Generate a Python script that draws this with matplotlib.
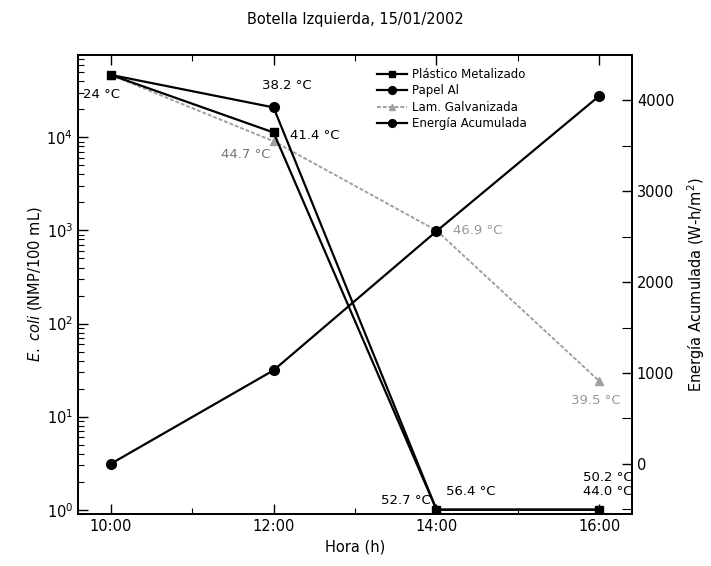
import matplotlib
matplotlib.use("Agg")
import matplotlib.pyplot as plt
from matplotlib.ticker import FixedLocator, NullFormatter, LogLocator

# hours of the day
hora = [10, 12, 14, 16]
hora_lbl = ["10:00", "12:00", "14:00", "16:00"]

# E. coli (NMP/100 mL)
plastico = [4.7e4, 1.13e4, 1, 1]
papel = [4.7e4, 2.1e4, 1, 1]
lamina = [4.7e4, 9.1e3, 1.0e3, 24]

# accumulated energy (W-h/m2)
energia = [0, 1030, 2560, 4050]

# temperature labels: (text, x, y, color) in data coords of left axis
notas = [
    ("24 °C", 9.66, 2.9e4, "black"),
    ("38.2 °C", 11.86, 3.6e4, "black"),
    ("41.4 °C", 12.2, 1.05e4, "black"),
    ("44.7 °C", 11.35, 6.5e3, "#777777"),
    ("46.9 °C", 14.2, 1.0e3, "#999999"),
    ("39.5 °C", 15.65, 15, "#999999"),
    ("52.7 °C", 13.32, 1.25, "black"),
    ("56.4 °C", 14.12, 1.55, "black"),
    ("50.2 °C", 15.8, 2.2, "black"),
    ("44.0 °C", 15.8, 1.55, "black"),
]

fig = plt.figure(figsize=(7.11, 5.66), dpi=100)
ax = fig.add_axes([0.1097, 0.092, 0.7792, 0.811])
ax2 = ax.twinx()

l3, = ax.plot(hora, lamina, color="#a0a0a0", lw=1.4, ls=(0, (2, 1)), marker="^", ms=6,
              label="Lam. Galvanizada")
l2, = ax.plot(hora, papel, color="black", lw=1.6, marker="o", ms=7, markevery=[1],
              label="Papel Al")
l1, = ax.plot(hora, plastico, color="black", lw=1.6, marker="s", ms=6, label="Plástico Metalizado")
l4, = ax2.plot(hora, energia, color="black", lw=1.6, marker="o", ms=7, label="Energía Acumulada")

ax.set_yscale("log")
ax.set_ylim(0.9, 7.7e4)
ax.set_xlim(9.6, 16.4)
ax2.set_ylim(-550, 4500)

ax.set_xticks(hora)
ax.set_xticklabels(hora_lbl)
ax.xaxis.set_minor_locator(FixedLocator([11, 13, 15]))
ax.yaxis.set_minor_locator(LogLocator(base=10, subs=range(2, 10), numticks=20))
ax.yaxis.set_minor_formatter(NullFormatter())
ax2.set_yticks([0, 1000, 2000, 3000, 4000])
ax2.yaxis.set_minor_locator(FixedLocator([-500, 500, 1500, 2500, 3500]))

ax.tick_params(axis="both", which="both", direction="in", labelsize=10.5)
ax.tick_params(axis="x", which="both", top=True)
ax.tick_params(which="major", length=7, width=1)
ax.tick_params(which="minor", length=4, width=0.8)
ax2.tick_params(which="both", direction="in", labelsize=10.5)
ax2.tick_params(which="major", length=7, width=1)
ax2.tick_params(which="minor", length=7, width=0.8)

for a in (ax, ax2):
    for s in a.spines.values():
        s.set_linewidth(1.3)

ax.set_xlabel("Hora (h)", fontsize=10.5, labelpad=4)
ax.set_ylabel(r"$\mathit{E.\ coli}$ (NMP/100 mL)", fontsize=10.5, labelpad=2)
ax2.set_ylabel("Energía Acumulada (W-h/m$^2$)", fontsize=10.5, labelpad=8)
ax.set_title("Botella Izquierda, 15/01/2002", fontsize=10.5, pad=22)

for txt, x, y, c in notas:
    ax.text(x, y, txt, fontsize=9.5, color=c, ha="left", va="center")

leg = ax.legend(handles=[l1, l2, l3, l4], loc="upper left", bbox_to_anchor=(0.52, 0.995),
                frameon=False, fontsize=8.5, handlelength=2.6, labelspacing=0.3,
                markerscale=0.8, handletextpad=0.4)
leg.set_zorder(10)

fig.savefig("out.png", dpi=100)
